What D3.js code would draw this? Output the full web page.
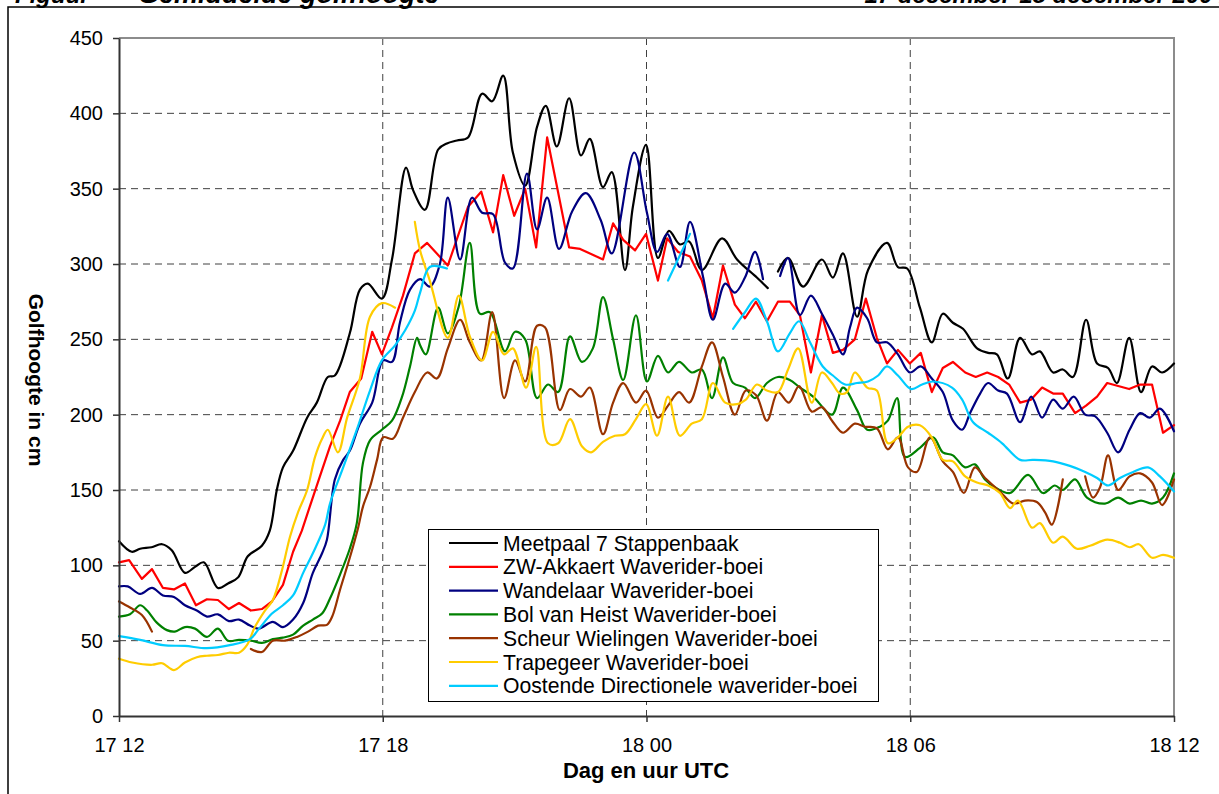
<!DOCTYPE html>
<html><head><meta charset="utf-8">
<script src="https://cdn.jsdelivr.net/npm/d3@7/dist/d3.min.js"></script>
<style>
html,body{margin:0;padding:0;background:#fff;}
svg{display:block;font-family:"Liberation Sans",Arial,sans-serif;}
</style></head>
<body>
<svg id="c" width="1219" height="794"></svg>
<script>
// ---- DATA (time in hours since 17 dec 12:00 UTC, values in cm) ----
const xTickValues = [0, 6, 12, 18, 24];
const xTickLabels = ["17 12", "17 18", "18 00", "18 06", "18 12"];
const yTickValues = [0, 50, 100, 150, 200, 250, 300, 350, 400, 450];
const seriesNames = ["Meetpaal 7 Stappenbaak","ZW-Akkaert Waverider-boei","Wandelaar Waverider-boei","Bol van Heist Waverider-boei","Scheur Wielingen Waverider-boei","Trapegeer Waverider-boei","Oostende Directionele waverider-boei"];
const seriesColors = ["#000000","#ff0000","#000080","#008000","#993300","#ffcc00","#00ccff"];

const meetpaalT = [0,0.29,0.48,0.74,0.98,1.2,1.5,1.73,1.93,2.25,2.48,2.71,2.93,3.25,3.43,3.59,3.73,3.96,4.28,4.5,4.75,4.91,5.25,5.48,5.66,5.98,6.21,6.53,6.69,6.96,7.26,7.46,7.69,7.94,8.26,8.49,8.74,8.96,9.24,9.51,9.71,9.96,10.24,10.51,10.71,11.01,11.21,11.51,11.69,11.99,12.26,12.51,12.76,12.97,13.26,13.72,14.06,14.51,14.76,14.85,14.99,15.22,15.56,15.99,16.24,16.47,16.79,17.04,17.47,17.72,17.93,18.22,18.49,18.74,18.97,19.2,19.52,19.77,19.97,20.22,20.5,20.77,20.95,21.25,21.47,21.7,22,22.25,22.5,22.7,22.98,23.25,23.5,23.73,24];
const meetpaalV = [116,109,111,112,114,110,95,99,102,85,88,92,106,113,123,150,165,176,198,208,225,226,254,283,287,277,303,364,349,336,376,380,382,384,413,408,425,374,352,391,405,378,410,372,383,351,361,296,338,379,304,322,313,315,296,317,303,291,284,null,295,304,285,303,291,307,265,296,314,298,297,271,248,267,261,257,244,241,240,224,251,240,242,228,230,225,263,234,231,221,251,215,232,228,234];

const akkaertT = [0,0.23,0.52,0.75,1,1.25,1.5,1.75,2,2.25,2.5,2.73,3,3.25,3.48,3.73,3.96,4.16,4.34,4.57,4.8,5.03,5.25,5.51,5.76,5.98,6.21,6.46,6.73,7.01,7.48,7.94,8.24,8.51,8.74,8.99,9.24,9.49,9.74,10.24,10.49,11.01,11.24,11.47,11.74,11.99,12.26,12.47,12.72,12.99,13.26,13.51,13.74,14.01,14.24,14.49,14.74,14.99,15.26,15.49,15.74,15.99,16.24,16.47,16.74,16.99,17.24,17.47,17.72,17.99,18.24,18.49,18.74,18.97,19.25,19.49,19.75,20,20.25,20.5,20.75,21,21.25,21.47,21.75,22,22.25,22.48,22.73,22.98,23.23,23.5,23.75,24];
const akkaertV = [102,103.5,91,97.5,85,84,88,73.5,77.5,77,71,75,70,71,76,87,109,123,139,159,179,196,215,224,255,240,258,279,307,314,299,338,348,321,359,332,350,311,384,311,310,303,327,316,309,320,289,317,308,305,289,264,299,273,264,275,262,275,275,266,228,266,241,243,250,277,251,234,243,234,241,215,231,235,228,225,228,225,220,208,210,218,214,214,201,206,212,221,219,217,220,220,188,193];

const wandelaarT = [0,0.2,0.48,0.75,1,1.25,1.5,1.77,2,2.25,2.5,2.73,2.98,3.18,3.5,3.73,3.96,4.19,4.41,4.62,4.73,4.91,5.1,5.25,5.48,5.76,6.01,6.21,6.39,6.62,6.85,7.07,7.3,7.48,7.76,8.03,8.26,8.51,8.78,8.96,9.28,9.51,9.74,10.01,10.31,10.62,10.96,11.21,11.72,12.01,12.24,12.47,12.76,12.99,13.29,13.51,13.79,14.01,14.24,14.47,14.65,14.8,15.04,15.22,15.49,15.74,15.99,16.24,16.47,16.63,16.79,17.02,17.24,17.47,17.72,17.99,18.24,18.49,18.74,18.97,19.18,19.36,19.59,19.77,20,20.2,20.5,20.75,21,21.25,21.47,21.72,21.98,22.2,22.48,22.73,22.99,23.23,23.45,23.68,24];
const wandelaarV = [86,86,81,85,80,79,73.5,70,66,67.5,63,64,60,58,62.5,59,64,75,95,108,117,157,170,176,194,208,236,235,261,283,290,285,300,344,303,344,334,333,301,297,360,323,344,310,335,347,329,307,374,334,308,320,298,328,291,263,287,281,291,308,290,null,292,304,266,279,267,253,240,258,271,264,248,248,240,228,232,224,215,196,190,201,214,221,216,214,195,212,198,210,204,212,200,199,188,175,190,201,198,204,189];

const bolT = [0,0.25,0.48,0.64,0.86,1.09,1.27,1.5,1.73,2,2.25,2.48,2.73,3,3.25,3.5,3.73,3.96,4.19,4.41,4.62,4.8,5.03,5.25,5.41,5.55,5.71,5.98,6.21,6.44,6.62,6.78,6.85,6.98,7.26,7.48,7.73,7.98,8.21,8.44,8.78,9.01,9.24,9.51,9.76,9.99,10.26,10.53,10.78,11.01,11.24,11.47,11.76,12.01,12.26,12.49,12.74,13.03,13.26,13.49,13.74,13.97,14.24,14.47,14.74,14.99,15.26,15.49,15.79,16.22,16.47,16.79,17.02,17.31,17.49,17.7,17.88,18.22,18.52,18.74,18.97,19.25,19.47,19.7,19.97,20.27,20.68,21.02,21.29,21.47,21.75,22.02,22.43,22.73,22.99,23.25,23.5,23.75,24];
const bolV = [66,67.5,73.5,70,62,57,56,59,58,52.5,58,50,50.5,50,48.5,51,52,54,60,64,68,78,94,111,128,168,183,190,196,212,232,251,246,240,271,254,272,314,267,268,242,255,250,211,220,215,252,235,244,278,250,223,266,222,239,228,235,228,230,211,238,221,218,211,221,225,223,218,212,200,218,203,190,192,196,211,172,178,185,175,173,165,167,157,151,148,160,148,153,150,157,145,141,145,141,143,141,145,161];

const scheurT = [0,0.25,0.52,0.75,1.5,3,3.25,3.5,3.78,4.05,4.3,4.53,4.73,4.85,5.03,5.25,5.44,5.55,5.71,5.87,6.01,6.23,6.46,6.73,7.01,7.23,7.48,7.76,7.98,8.24,8.49,8.76,9.01,9.24,9.51,9.69,10.03,10.26,10.51,10.71,11.01,11.24,11.47,11.76,11.99,12.26,12.49,12.74,12.97,13.26,13.49,13.74,14.01,14.26,14.49,14.74,14.99,15.24,15.47,15.76,15.99,16.22,16.47,16.74,16.97,17.24,17.49,17.72,17.95,18.15,18.45,18.74,18.97,19.22,19.47,19.7,20.04,20.34,20.61,20.88,21.07,21.22,21.47,21.7,21.98,22.16,22.32,22.5,22.73,22.99,23.23,23.5,23.73,24];
const scheurV = [76,72,67,56,null,44.5,42.5,50,50,52.5,56,60,60.5,66,84,105,125,139,152,170,185,184,198,215,228,224,244,263,248,236,268,211,236,222,259,258,203,217,212,218,187,208,221,208,216,198,206,215,208,232,248,225,200,216,213,196,215,208,219,202,205,196,188,194,192,191,177,185,165,162,185,169,162,148,165,158,149,141,143,142,135,127,157,null,159,145,152,173,150,159,161,155,140,157];

const trapegeerT = [0,0.3,0.75,0.98,1.25,1.5,1.77,2,2.25,2.5,2.73,2.91,3.09,3.32,3.5,3.71,3.89,4.07,4.28,4.46,4.62,4.75,4.98,5.19,5.48,5.71,5.98,6.28,6.5,6.73,6.85,7.07,7.48,7.73,7.98,8.26,8.51,8.76,8.96,9.26,9.49,9.76,9.99,10.26,10.53,10.74,11.01,11.28,11.51,11.76,11.99,12.24,12.49,12.76,13.03,13.26,13.51,13.79,14.06,14.26,14.51,14.74,14.99,15.22,15.45,15.76,15.99,16.22,16.4,16.56,16.74,17.02,17.24,17.49,17.72,17.95,18.22,18.49,18.74,18.97,19.25,19.52,19.77,20.04,20.27,20.45,20.77,20.95,21.25,21.47,21.79,22.09,22.48,22.77,22.99,23.2,23.5,23.75,24];
const trapegeerV = [38,35.5,34,35,30.5,35.5,39,40,40.5,42,42,47,59,70,77,97,119,135,150,172,184,190,175,198,224,265,274,271,null,328,309,289,251,279,252,236,255,240,244,218,245,181,181,197,179,175,182,186,187,197,207,186,212,186,194,197,221,208,207,210,220,216,215,230,244,208,228,221,214,215,228,218,216,181,185,192,193,185,170,169,159,155,153,148,138,143,125,128,115,119,111,113,117,115,112,114,105,107,105];

const oostendeT = [0,0.48,1,1.5,2,2.52,2.98,3.16,3.48,3.73,3.96,4.19,4.41,4.69,4.8,5.1,5.41,5.71,5.98,6.28,6.51,6.73,6.85,7.07,7.46,7.6,12.49,12.99,13.3,13.97,14.24,14.49,14.74,14.99,15.26,15.47,15.72,16.01,16.24,16.52,16.79,17.04,17.27,17.47,17.72,18.02,18.27,18.52,18.95,19.18,19.43,19.77,20.09,20.5,20.79,21.25,21.63,21.98,22.25,22.5,22.77,23.07,23.41,23.68,24];
const oostendeV = [53,50.5,47,46.5,45,47,51,57,68,73.5,80,95,108,127,141,165,190,216,236,246,256,269,281,298,297,null,289,320,null,257,268,277,262,242,254,262,248,232,226,220,221,222,226,232,226,217,220,222,218,210,195,188,181,170,170,169,166,162,158,153,158,162,165,159,149];

const seriesT = [meetpaalT, akkaertT, wandelaarT, bolT, scheurT, trapegeerT, oostendeT];
const seriesV = [meetpaalV, akkaertV, wandelaarV, bolV, scheurV, trapegeerV, oostendeV];

// ---- LAYOUT ----
const svg = d3.select("#c");
const L = 119, R = 1174, T = 38, B = 716;
const x = d3.scaleLinear().domain([0, 24]).range([L, R]);
const y = d3.scaleLinear().domain([0, 450]).range([B, T]);

// header (cut off at top, as in the reference) and outer frame
svg.append("text").attr("x", 15).attr("y", 3).attr("font-size", 24).attr("font-weight", "bold").attr("font-style", "italic").text("Figuur");
svg.append("text").attr("x", 138).attr("y", 3).attr("font-size", 27).attr("font-weight", "bold").attr("font-style", "italic").text("Gemiddelde golfhoogte");
svg.append("text").attr("x", 1226).attr("y", 3).attr("text-anchor", "end").attr("font-size", 24).attr("font-weight", "bold").attr("font-style", "italic").text("17 december-18 december 2004");
svg.append("rect").attr("x", 8).attr("y", 7).attr("width", 1300).attr("height", 900).attr("fill", "none").attr("stroke", "#000").attr("stroke-width", 1.5);

// grid
const grid = svg.append("g").attr("stroke", "#404040").attr("stroke-width", 1).attr("stroke-dasharray", "7,5");
grid.selectAll("line.h").data(yTickValues.filter(v => v > 0 && v < 450)).join("line")
  .attr("x1", L).attr("x2", R).attr("y1", d => y(d)).attr("y2", d => y(d));
grid.selectAll("line.v").data(xTickValues.filter(v => v > 0 && v < 24)).join("line").attr("class","v")
  .attr("y1", T).attr("y2", B).attr("x1", d => x(d)).attr("x2", d => x(d));

// plot border top/right (gray)
svg.append("path").attr("d", `M${L},${T}H${R}V${B}`).attr("fill", "none").attr("stroke", "#8c8c8c").attr("stroke-width", 2);

// series
const lineLinear = d3.line().defined(d => d[1] != null).x(d => x(d[0])).y(d => y(d[1]));
const lineSmooth = d3.line().defined(d => d[1] != null).x(d => x(d[0])).y(d => y(d[1])).curve(d3.curveCatmullRom.alpha(0.5));
const plotG = svg.append("g");
seriesT.forEach((ts, i) => {
  const pts = ts.map((t, j) => [t, seriesV[i][j]]);
  plotG.append("path").datum(pts)
    .attr("fill", "none").attr("stroke", seriesColors[i]).attr("stroke-width", 2.2)
    .attr("stroke-linejoin", "round").attr("stroke-linecap", "round")
    .attr("d", i === 1 ? lineLinear : lineSmooth);
});

// axes
const yAxis = svg.append("g").attr("transform", `translate(${L},0)`)
  .call(d3.axisLeft(y).tickValues(yTickValues).tickSize(6).tickSizeOuter(0).tickPadding(10));
const xAxis = svg.append("g").attr("transform", `translate(0,${B})`)
  .call(d3.axisBottom(x).tickValues(xTickValues).tickFormat((d, i) => xTickLabels[i]).tickSize(6).tickSizeOuter(0).tickPadding(16));
[yAxis, xAxis].forEach(a => {
  a.select(".domain").attr("stroke", "#333").attr("stroke-width", 2);
  a.selectAll(".tick line").attr("stroke", "#333").attr("stroke-width", 1.5);
  a.selectAll(".tick text").attr("font-size", 20).attr("fill", "#000").attr("font-family", "Liberation Sans, Arial, sans-serif");
});

// axis titles
svg.append("text").attr("x", 646).attr("y", 778).attr("text-anchor", "middle").attr("font-size", 22).attr("font-weight", "bold").text("Dag en uur UTC");
svg.append("text").attr("transform", "translate(29,380) rotate(90)").attr("text-anchor", "middle").attr("font-size", 21).attr("font-weight", "bold").text("Golfhoogte in cm");

// legend
const lg = svg.append("g");
lg.append("rect").attr("x", 428.5).attr("y", 529.5).attr("width", 450).attr("height", 172).attr("fill", "#fff").attr("stroke", "#000").attr("stroke-width", 1);
seriesNames.forEach((n, i) => {
  const cy = 543 + i * 23.8;
  lg.append("line").attr("x1", 449).attr("x2", 498).attr("y1", cy).attr("y2", cy).attr("stroke", seriesColors[i]).attr("stroke-width", 2.2);
  lg.append("text").attr("x", 503).attr("y", cy).attr("dy", "0.36em").attr("font-size", 21.2).text(n);
});
</script>
</body></html>
